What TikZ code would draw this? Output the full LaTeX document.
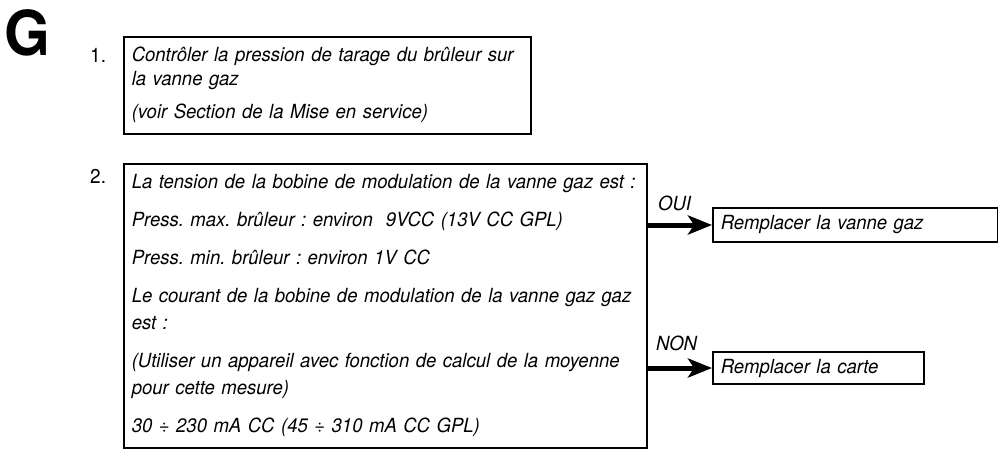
\documentclass[tikz,border=0pt]{standalone}
\usepackage{fontspec}
\setmainfont{TeX Gyre Heros}[FakeStretch=0.95]
\usetikzlibrary{arrows.meta}
\frenchspacing

\begin{document}
\begin{tikzpicture}[x=1pt, y=-1pt,
    box/.style={draw, line width=1.5pt, anchor=north west, align=left, inner xsep=8pt, inner ysep=0pt, font=\itshape\fontsize{19.5}{27}\selectfont},
    num/.style={font=\fontsize{20}{24}\selectfont, anchor=base west, inner sep=0pt},
    yesno/.style={font=\itshape\fontsize{19.5}{23}\selectfont, inner sep=1pt},
    branch/.style={line width=5pt, -{Stealth[length=24pt, width=19pt, inset=6pt]}}]
    \useasboundingbox (0,0) rectangle (998,448);

    % titre et numeros
    \node[font=\bfseries\fontsize{62}{62}\selectfont, anchor=base west, inner sep=0pt] (title) at (4,55) {G};
    \node[num] (num1) at (90,62) {1.};
    \node[num] (num2) at (90,183) {2.};

    % etape 1
    \node[box, text width=391pt, minimum height=97pt, font=\itshape\fontsize{19.5}{24}\selectfont] (check) at (123,36)
        {Contrôler la pression de tarage du brûleur sur\\la vanne gaz\\[9pt](voir Section de la Mise en service)};

    % etape 2
    \node[box, text width=507pt, minimum height=284pt] (measure) at (123,163)
        {La tension de la bobine de modulation de la vanne gaz est :\\[11pt]
         Press. max. brûleur : environ\ \ 9VCC (13V CC GPL)\\[11pt]
         Press. min. brûleur : environ 1V CC\\[11pt]
         Le courant de la bobine de modulation de la vanne gaz gaz\\est :\\[11pt]
         (Utiliser un appareil avec fonction de calcul de la moyenne\\pour cette mesure)\\[11pt]
         30 ÷ 230 mA CC (45 ÷ 310 mA CC GPL)};

    % resultats
    \node[box, anchor=west, text width=269pt, minimum height=34pt] (valve) at (712,225) {Remplacer la vanne gaz};
    \node[box, anchor=west, text width=195pt, minimum height=32pt] (board) at (712,368) {Remplacer la carte};

    \draw[branch] (measure.east |- valve.west) -- node[yesno, above=11pt, pos=0.42] (yes) {OUI} (valve.west);
    \draw[branch] (measure.east |- board.west) -- node[yesno, above=14pt, pos=0.45] (no) {NON} (board.west);
\end{tikzpicture}
\end{document}
